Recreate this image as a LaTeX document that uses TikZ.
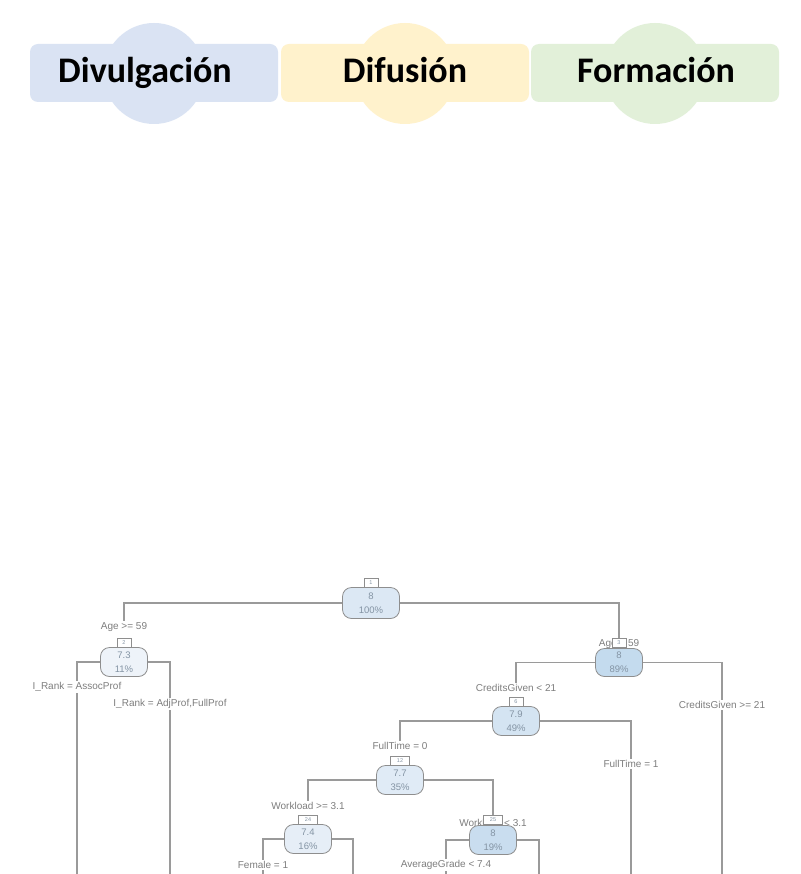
\documentclass[tikz,border=0pt]{standalone}
\usepackage{fontspec}
\setmainfont{Carlito}
\newfontfamily\treefont{Liberation Sans}
\definecolor{hblue}{HTML}{DAE3F3}
\definecolor{hyellow}{HTML}{FFF2CC}
\definecolor{hgreen}{HTML}{E2F0D9}
\definecolor{linegray}{HTML}{9A9A9A}
\definecolor{nodeborder}{HTML}{8E8E8E}
\definecolor{nodetext}{HTML}{8494A4}
\definecolor{condtext}{HTML}{7E7E7E}
\definecolor{fA}{HTML}{DCE8F4}
\definecolor{fB}{HTML}{EEF3F9}
\definecolor{fC}{HTML}{C4DBEE}
\definecolor{fD}{HTML}{D4E4F2}
\definecolor{fE}{HTML}{E0EBF6}
\definecolor{fF}{HTML}{E6EEF7}
\definecolor{fG}{HTML}{C9DDEF}
\begin{document}
\begin{tikzpicture}[x=1pt,y=-1pt,
  hdrbox/.style={rounded corners=8pt, minimum width=248pt, minimum height=58pt, inner sep=0pt},
  hdrtext/.style={font=\fontsize{36}{40}\selectfont\bfseries, text=black, inner sep=0pt, anchor=base},
  branch/.style={draw=linegray, line width=1.1pt},
  tnode/.style={draw=nodeborder, line width=0.8pt, rounded corners=9pt, minimum width=47pt, minimum height=29pt, inner sep=0pt, align=center, font=\treefont\fontsize{9.5}{14}\selectfont, text=nodetext},
  idbox/.style={draw=nodeborder, fill=white, line width=0.7pt, minimum width=14pt, minimum height=9pt, inner sep=0pt, font=\treefont\fontsize{5.5}{6}\selectfont, text=nodetext},
  cond/.style={font=\treefont\fontsize{10}{11}\selectfont, text=condtext, inner sep=1.5pt}
]
\useasboundingbox (0,0) rectangle (800,874);
\fill[white] (0,0) rectangle (800,874);

% ---- header ----
\fill[hblue] (154,73.5) circle (50.5pt);
\fill[hyellow] (405,73.5) circle (50.5pt);
\fill[hgreen] (655,73.5) circle (50.5pt);
\node[hdrbox, fill=hblue] (hb1) at (154,73) {};
\node[hdrbox, fill=hyellow] (hb2) at (405,73) {};
\node[hdrbox, fill=hgreen] (hb3) at (655,73) {};
\node[hdrtext] (ht1) at (145,83) {Divulgación};
\node[hdrtext] (ht2) at (405,83) {Difusión};
\node[hdrtext] (ht3) at (656,83) {Formación};

% ---- tree nodes ----
\node[tnode, fill=fA, minimum width=57pt, minimum height=31pt] (n1) at (371,603) {8\\100\%};
\node[idbox] (i1) at (371,583) {1};

\node[cond] (c2) at (124,627) {Age >= 59};
\node[idbox] (i2) at (124,642.5) {2};
\node[tnode, fill=fB] (n2) at (124,662) {7.3\\11\%};

\node[cond] (c3) at (619,644) {Age < 59};
\node[idbox] (i3) at (619,642.5) {3};
\node[tnode, fill=fC, minimum height=28pt] (n3) at (619,662.5) {8\\89\%};

\node[cond] (c4) at (77,687) {I\_Rank = AssocProf};
\node[cond] (c5) at (170,704) {I\_Rank = AdjProf,FullProf};

\node[cond] (c6) at (516,688) {CreditsGiven < 21};
\node[idbox] (i6) at (516,702) {6};
\node[tnode, fill=fD] (n6) at (516,721) {7.9\\49\%};

\node[cond] (c7) at (722,705) {CreditsGiven >= 21};

\node[cond] (c12) at (400,746) {FullTime = 0};
\node[idbox, minimum width=19pt] (i12) at (400,760.5) {12};
\node[tnode, fill=fE] (n12) at (400,780) {7.7\\35\%};

\node[cond] (c13) at (631,764) {FullTime = 1};

\node[cond] (c24) at (308,806) {Workload >= 3.1};
\node[idbox, minimum width=19pt] (i24) at (308,820) {24};
\node[tnode, fill=fF] (n24) at (308,839) {7.4\\16\%};

\node[cond] (c25) at (493,823) {Workload < 3.1};
\node[idbox, minimum width=19pt] (i25) at (493,820) {25};
\node[tnode, fill=fG] (n25) at (493,840) {8\\19\%};

\node[cond] (c48) at (263,865) {Female = 1};
\node[cond] (c50) at (446,865) {AverageGrade < 7.4};

% bottom ends
\coordinate (b4) at (77,874);
\coordinate (b5) at (170,874);
\coordinate (b7) at (722,874);
\coordinate (b13) at (631,874);
\coordinate (b48) at (263,874);
\coordinate (b49) at (353,874);
\coordinate (b50) at (446,874);
\coordinate (b51) at (539,874);

% ---- branches ----
\draw[branch] (n1.west) -| (c2.north);
\draw[branch] (n1.east) -| (i3.north);
\draw[branch] (n2.west) -| (c4.north);
\draw[branch] (n2.east) -| (c5.north);
\draw[branch] (c4.south) -- (b4);
\draw[branch] (c5.south) -- (b5);
\draw[branch] (n3.west) -| (c6.north);
\draw[branch] (n3.east) -| (c7.north);
\draw[branch] (c7.south) -- (b7);
\draw[branch] (n6.west) -| (c12.north);
\draw[branch] (n6.east) -| (c13.north);
\draw[branch] (c13.south) -- (b13);
\draw[branch] (n12.west) -| (c24.north);
\draw[branch] (n12.east) -| (i25.north);
\draw[branch] (n24.west) -| (c48.north);
\draw[branch] (n24.east) -| (b49);
\draw[branch] (n25.west) -| (c50.north);
\draw[branch] (n25.east) -| (b51);
\draw[branch] (c48.south) -- (b48);
\draw[branch] (c50.south) -- (b50);
\end{tikzpicture}
\end{document}
